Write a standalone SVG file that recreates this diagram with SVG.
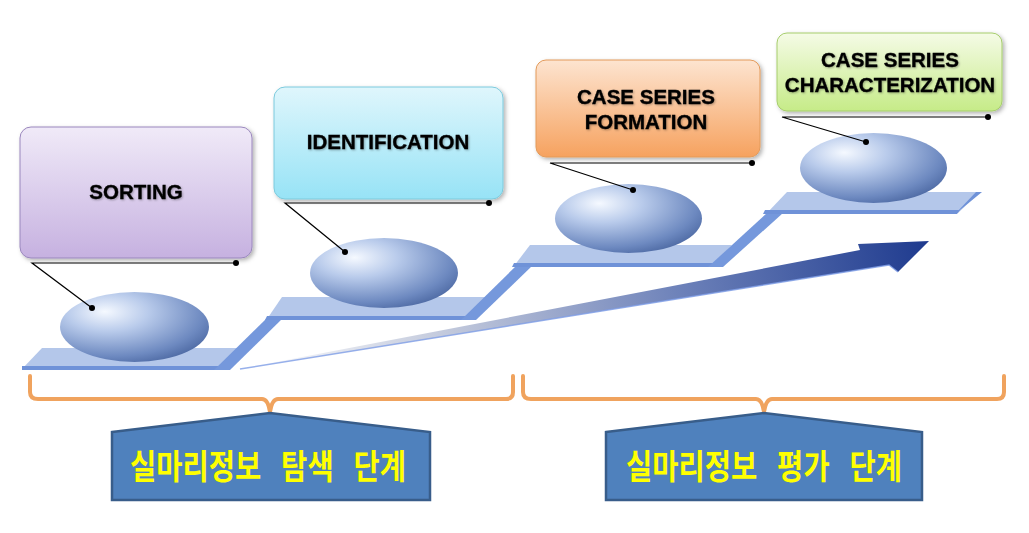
<svg xmlns="http://www.w3.org/2000/svg" width="1029" height="533" viewBox="0 0 1029 533">
<defs>
<linearGradient id="gPurple" x1="0" y1="0" x2="0" y2="1"><stop offset="0" stop-color="#f0eaf8"/><stop offset="1" stop-color="#c6b1e0"/></linearGradient>
<linearGradient id="gCyan" x1="0" y1="0" x2="0" y2="1"><stop offset="0" stop-color="#dff6fc"/><stop offset="1" stop-color="#97e3f6"/></linearGradient>
<linearGradient id="gOrange" x1="0" y1="0" x2="0" y2="1"><stop offset="0" stop-color="#fde4d0"/><stop offset="1" stop-color="#f6a25f"/></linearGradient>
<linearGradient id="gGreen" x1="0" y1="0" x2="0" y2="1"><stop offset="0" stop-color="#f5fbe6"/><stop offset="1" stop-color="#c6eb88"/></linearGradient>
<radialGradient id="gBall" cx="0.35" cy="0.3" r="0.78" fx="0.3" fy="0.28"><stop offset="0" stop-color="#f5f9ff"/><stop offset="0.35" stop-color="#b9cbeb"/><stop offset="0.8" stop-color="#6d89c0"/><stop offset="1" stop-color="#4b67a1"/></radialGradient>
<linearGradient id="gArrow" gradientUnits="userSpaceOnUse" x1="240" y1="368" x2="929" y2="241"><stop offset="0" stop-color="#ffffff"/><stop offset="0.3" stop-color="#c2c9dc"/><stop offset="0.65" stop-color="#6a7fb8"/><stop offset="1" stop-color="#1e3a8e"/></linearGradient>
<filter id="shadow" x="-10%" y="-10%" width="125%" height="130%"><feDropShadow dx="2" dy="2" stdDeviation="2" flood-color="#000" flood-opacity="0.3"/></filter>
<filter id="tshadow" x="-5%" y="-20%" width="110%" height="150%"><feDropShadow dx="1" dy="1" stdDeviation="0.8" flood-color="#000" flood-opacity="0.3"/></filter>
</defs>
<style>
.box{stroke-width:1;filter:url(#shadow)}
.lbl{font-family:"Liberation Sans",Arial,sans-serif;font-weight:bold;font-size:20.5px;fill:#000;stroke:#000;stroke-width:0.35;text-anchor:middle;filter:url(#tshadow)}
.ball{fill:url(#gBall)}
.surf{fill:#b4c7ea}
.edge{fill:#6f92d8}
.riser{fill:#7598dc}
.call{stroke:#000;stroke-width:1.2;fill:none}
.dot{fill:#000}
.brk{fill:none;stroke:#f0a35e;stroke-width:4;stroke-linejoin:round;stroke-linecap:round}
.home{fill:#4f81bd;stroke:#385d8a;stroke-width:2.5}
.kor{font-family:"Noto Sans CJK KR",sans-serif;font-weight:bold;font-size:34px;word-spacing:16px;fill:#ffff00;text-anchor:middle}
</style>
<rect width="1029" height="533" fill="#ffffff"/>

<g id="stairs">
<polygon class="surf" points="22,369 222,369 242,348 42,348"/>
<polygon class="edge" points="22,366 222,366 220,370 22,370"/>
<polygon class="riser" points="214,370 230,370 283,318 267,318"/>
<polygon class="surf" points="267,319 467,319 487,297 282,297"/>
<polygon class="edge" points="267,316 469,316 466,320 265,320"/>
<polygon class="riser" points="461,320 476,320 532,266 516,266"/>
<polygon class="surf" points="514,266 712,266 732,245 530,245"/>
<polygon class="edge" points="514,263 714,263 711,267 512,267"/>
<polygon class="riser" points="708,267 723,267 783,213 767,213"/>
<polygon class="surf" points="767,213 958,213 980,192 787,192"/>
<polygon class="edge" points="765,210 960,210 957,214 763,214"/>
<polygon class="edge" points="956,213 960,210 982,192 976,192"/>
</g>

<g id="arrow">
<polygon points="240,369 860,250 858,244 929,241 898,272 889,265" fill="url(#gArrow)"/>
<polyline points="240,369 889,265 898,272" fill="none" stroke="#7d9ce6" stroke-width="1.5" opacity="0.8"/>
</g>

<g id="ball1"><ellipse class="ball" cx="134.5" cy="327" rx="74.5" ry="35"/></g>
<g id="ball2"><ellipse class="ball" cx="384" cy="273" rx="74" ry="35"/></g>
<g id="ball3"><ellipse class="ball" cx="628.5" cy="218.5" rx="73.5" ry="34.5"/></g>
<g id="ball4"><ellipse class="ball" cx="873.5" cy="168" rx="73.5" ry="35"/></g>

<g id="node-sorting">
<rect class="box" x="20" y="127" width="232" height="131" rx="11" fill="url(#gPurple)" stroke="#9a87bd"/>
<text class="lbl" x="136" y="199">SORTING</text>
</g>
<g id="node-identification">
<rect class="box" x="274" y="87" width="229" height="112" rx="11" fill="url(#gCyan)" stroke="#7ccadd"/>
<text class="lbl" x="388" y="149">IDENTIFICATION</text>
</g>
<g id="node-formation">
<rect class="box" x="536" y="60" width="224" height="97" rx="10" fill="url(#gOrange)" stroke="#e39a5a"/>
<text class="lbl" x="646" y="104">CASE SERIES</text>
<text class="lbl" x="646" y="129">FORMATION</text>
</g>
<g id="node-characterization">
<rect class="box" x="777" y="33" width="225" height="78" rx="10" fill="url(#gGreen)" stroke="#a6cd6c"/>
<text class="lbl" x="890" y="67">CASE SERIES</text>
<text class="lbl" x="890" y="92">CHARACTERIZATION</text>
</g>

<g id="connectors">
<polyline class="call" points="92,308 32,263 236,263"/>
<circle class="dot" cx="92" cy="308" r="3"/><circle class="dot" cx="236" cy="263" r="3"/>
<polyline class="call" points="345,252 285,203 489,203"/>
<circle class="dot" cx="345" cy="252" r="3"/><circle class="dot" cx="489" cy="203" r="3"/>
<polyline class="call" points="633,190 550,163 752,163"/>
<circle class="dot" cx="633" cy="190" r="3"/><circle class="dot" cx="752" cy="163" r="3"/>
<polyline class="call" points="866,142 782,117 988,117"/>
<circle class="dot" cx="866" cy="142" r="3"/><circle class="dot" cx="988" cy="117" r="3"/>
</g>

<g id="bracket-left">
<path class="brk" d="M30,376 V392 Q30,399 38,399 H262 Q268,399 270,412 Q272,399 278,399 H506 Q513,399 513,392 V376"/>
</g>
<g id="bracket-right">
<path class="brk" d="M523,376 V392 Q523,399 531,399 H756 Q762,399 764,412 Q766,399 772,399 H997 Q1004,399 1004,392 V376"/>
</g>

<g id="stage-explore">
<polygon class="home" points="112,432 270,413 430,432 430,500 112,500"/>
<text class="kor" transform="translate(268,479) scale(0.84,1)" x="0" y="0">실마리정보 탐색 단계</text>
</g>
<g id="stage-evaluate">
<polygon class="home" points="606,432 764,413 922,432 922,500 606,500"/>
<text class="kor" transform="translate(764,479) scale(0.84,1)" x="0" y="0">실마리정보 평가 단계</text>
</g>
</svg>
